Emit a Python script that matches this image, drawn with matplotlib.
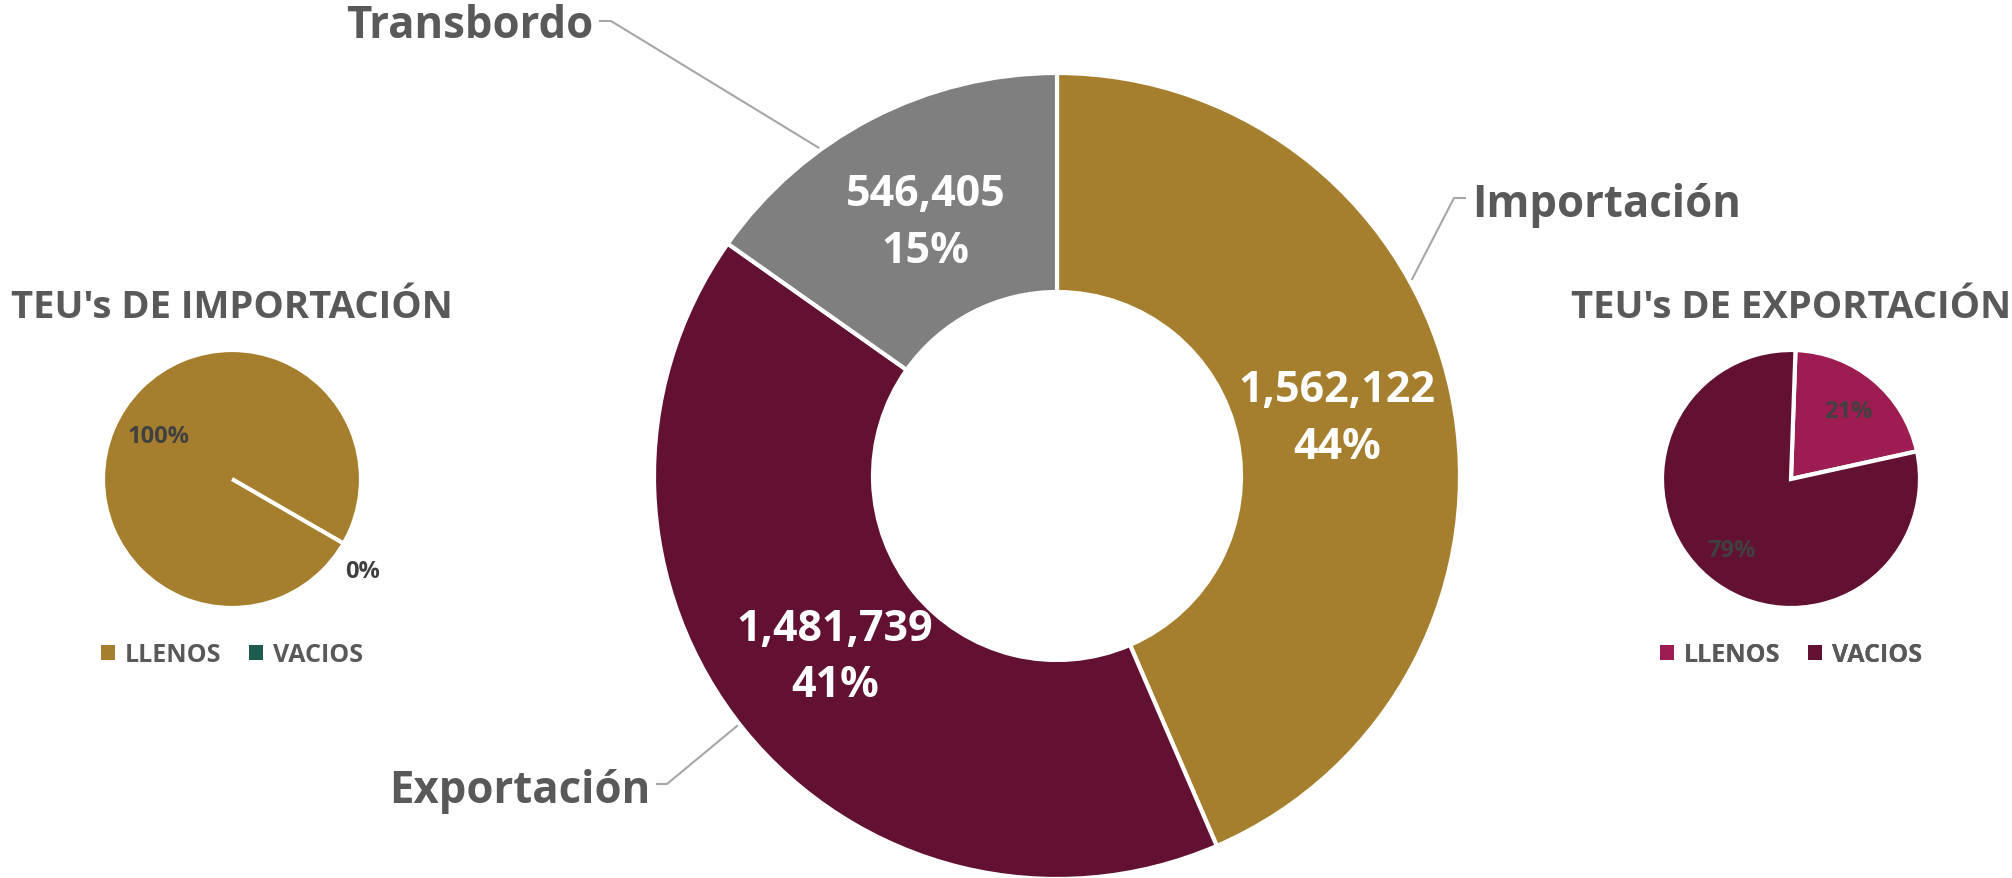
import numpy as np
import matplotlib.pyplot as plt
from matplotlib.patches import Patch

plt.rcParams['font.family'] = ['Open Sans', 'DejaVu Sans']

# data
port_labels = ['Importación', 'Exportación', 'Transbordo']
port_values = [1562122, 1481739, 546405]
port_colors = ['#A67F2E', '#621132', '#7F7F7F']

imp_labels = ['LLENOS', 'VACIOS']
imp_pct = [100, 0]
imp_colors = ['#A67F2E', '#1E5B4F']

exp_labels = ['LLENOS', 'VACIOS']
exp_pct = [21, 79]
exp_colors = ['#9D1C52', '#621132']

W, H = 2012, 879
GRAY = '#595959'


def Y(y):
    # image row -> data y
    return H - y


fig = plt.figure(figsize=(W / 100, H / 100), dpi=100)
ax = fig.add_axes([0, 0, 1, 1])

# main donut
cx, cy, R = 1057, Y(477), 403
wedges, _ = ax.pie(port_values, colors=port_colors, startangle=90, counterclock=False,
                   radius=R, center=(cx, cy), frame=True,
                   wedgeprops=dict(width=R - 184, edgecolor='white', linewidth=3))
total = sum(port_values)
for w, v in zip(wedges, port_values):
    mid = np.deg2rad((w.theta1 + w.theta2) / 2)
    r = 0.71 * R
    ax.text(cx + r * np.cos(mid), cy + r * np.sin(mid),
            f'{v:,}\n{round(v / total * 100)}%', ha='center', va='center',
            color='white', fontsize=31, fontweight='bold', linespacing=1.4)

# outer category labels with leader lines
outer = {
    'Importación': dict(ang=29, elbow=(1454, 199), end=(1465, 199), txt=(1472, 205), ha='left'),
    'Exportación': dict(ang=218, elbow=(667, 785), end=(657, 785), txt=(650, 792), ha='right'),
    'Transbordo': dict(ang=126, elbow=(611, 22), end=(600, 22), txt=(593, 26), ha='right'),
}
for name, o in outer.items():
    a = np.deg2rad(o['ang'])
    px, py = cx + (R + 3) * np.cos(a), cy + (R + 3) * np.sin(a)
    ax.plot([px, o['elbow'][0], o['end'][0]], [py, Y(o['elbow'][1]), Y(o['end'][1])],
            color='#A6A6A6', lw=1.5, zorder=1)
    ax.text(o['txt'][0], Y(o['txt'][1]), name, ha=o['ha'], va='center',
            color=GRAY, fontsize=31.5, fontweight='bold')


def small_pie(pct, colors, labels, center, start, title, dists, nudges, legend_y):
    x0, y0 = center
    rad = 129
    ws, _ = ax.pie(pct, colors=colors, startangle=start, counterclock=False,
                   radius=rad, center=(x0, Y(y0)), frame=True,
                   wedgeprops=dict(edgecolor='white', linewidth=3))
    for w, p, d, n in zip(ws, pct, dists, nudges):
        mid = np.deg2rad((w.theta1 + w.theta2) / 2 + n)
        ax.text(x0 + d * rad * np.cos(mid), Y(y0) + d * rad * np.sin(mid), f'{p}%',
                ha='center', va='center', color='#404040', fontsize=17, fontweight='bold')
    ax.text(x0, Y(y0 - 172), title, ha='center', va='center', color=GRAY,
            fontsize=27.5, fontweight='bold')
    handles = [Patch(facecolor=c, edgecolor='none') for c in colors]
    leg = ax.legend(handles, labels, ncol=2, loc='center', frameon=False,
                    bbox_to_anchor=(x0, Y(legend_y)), bbox_transform=ax.transData,
                    handlelength=0.55, handleheight=0.55, handletextpad=0.4,
                    columnspacing=1.1, prop=dict(size=18, weight='bold'))
    for t in leg.get_texts():
        t.set_color(GRAY)
    ax.add_artist(leg)


small_pie(imp_pct, imp_colors, imp_labels, (232, 480), -30, "TEU's DE IMPORTACIÓN",
          [0.66, 1.24], [0, -5], 656)
small_pie(exp_pct, exp_colors, exp_labels, (1791, 480), 88, "TEU's DE EXPORTACIÓN",
          [0.69, 0.72], [0, 0], 656)

ax.set_xlim(0, W)
ax.set_ylim(0, H)
ax.set_aspect('equal')
ax.axis('off')

fig.savefig('out.png', dpi=100, facecolor='white')
